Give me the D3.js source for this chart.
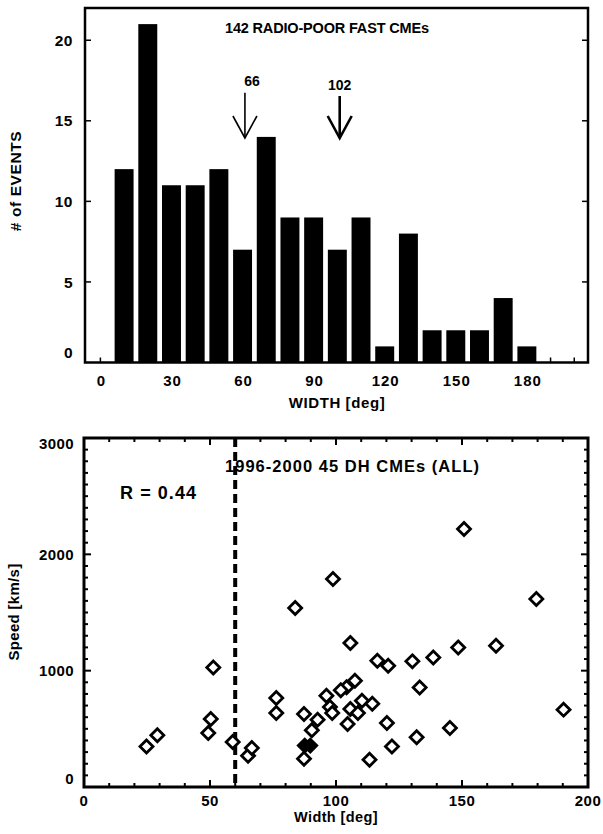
<!DOCTYPE html>
<html>
<head>
<meta charset="utf-8">
<script src="https://cdn.jsdelivr.net/npm/d3@7"></script>
<style>
  html, body { margin: 0; padding: 0; background: #fff; }
  svg { display: block; }
  text { font-family: "Liberation Sans", Arial, Helvetica, sans-serif; font-weight: bold; fill: #000; }
</style>
</head>
<body>
<svg id="chart" width="603" height="834"></svg>
<script>
// ---------- DATA ----------
// Histogram: widths of 142 radio-poor fast CMEs
const binCenters = [10, 20, 30, 40, 50, 60, 70, 80, 90, 100, 110, 120, 130, 140, 150, 160, 170, 180];
const binCounts  = [12, 21, 11, 11, 12, 7, 14, 9, 9, 7, 9, 1, 8, 2, 2, 2, 4, 1];
const histXTicks = [0, 30, 60, 90, 120, 150, 180];
const histYTicks = [0, 5, 10, 15, 20];
const arrowPos    = [61, 101];
const arrowLabels = ["66", "102"];

// Scatter: 45 DH CMEs, width [deg] vs speed [km/s]
const cmeWidth = [150.8, 98.8, 83.8, 179.5, 105.7, 148.5, 163.5, 51.3, 116.4, 120.7,
                  130.3, 138.6, 133.2, 107.5, 104.2, 101.9, 96.2, 76.3, 76.3, 97.6,
                  98.5, 110.3, 114.4, 105.7, 108.7, 104.6, 87.3, 92.7, 90.4, 120.2,
                  145.2, 190.3, 132.0, 122.2, 113.3, 87.3, 65.1, 66.6, 59.0, 50.3,
                  49.3, 29.1, 24.8];
const cmeSpeed = [2218, 1788, 1539, 1616, 1238, 1200, 1215, 1028, 1086, 1043,
                  1080, 1114, 856, 914, 857, 831, 785, 765, 636, 688,
                  636, 742, 716, 671, 636, 542, 628, 579, 487, 550,
                  507, 665, 427, 348, 235, 243, 269, 335, 387, 585,
                  464, 444, 349];
// two overlapping points drawn as filled symbols
const filledWidth = [87.6, 89.8];
const filledSpeed = [356, 356];
const scatXTicks = [0, 50, 100, 150, 200];
const scatYTicks = [0, 1000, 2000, 3000];
const widthCut = 60;

// ---------- DRAW ----------
const svg = d3.select("#chart");

// ===== Histogram =====
const hx = d3.scaleLinear().domain([-6.5, 205.8]).range([85, 588]);
const hy = d3.scaleLinear().domain([0, 22]).range([362.5, 8]);
const H = svg.append("g");

// bottom minor ticks (under bars)
H.selectAll("line.bt").data(d3.range(0, 201, 10)).join("line")
  .attr("x1", d => hx(d)).attr("x2", d => hx(d))
  .attr("y1", hy(0)).attr("y2", hy(0) - 5)
  .attr("stroke", "#000").attr("stroke-width", 1.5);

// bars
const barW = hx(8) - hx(0);
H.selectAll("rect.bar").data(binCenters).join("rect")
  .attr("x", d => hx(d) - barW / 2)
  .attr("width", barW)
  .attr("y", (d, i) => hy(binCounts[i]))
  .attr("height", (d, i) => hy(0) - hy(binCounts[i]))
  .attr("fill", "#000");

// frame
H.append("rect").attr("x", hx.range()[0]).attr("y", hy.range()[1])
  .attr("width", hx.range()[1] - hx.range()[0]).attr("height", hy.range()[0] - hy.range()[1])
  .attr("fill", "none").attr("stroke", "#000").attr("stroke-width", 2.5);

// y ticks left/right
histYTicks.filter(d => d > 0).forEach(d => {
  H.append("line").attr("x1", hx.range()[0]).attr("x2", hx.range()[0] + 6)
    .attr("y1", hy(d)).attr("y2", hy(d)).attr("stroke", "#000").attr("stroke-width", 1.5);
  H.append("line").attr("x1", hx.range()[1]).attr("x2", hx.range()[1] - 6)
    .attr("y1", hy(d)).attr("y2", hy(d)).attr("stroke", "#000").attr("stroke-width", 1.5);
});
// y tick labels
H.selectAll("text.yl").data(histYTicks).join("text")
  .attr("x", 73).attr("y", d => Math.min(hy(d), hy(0) - 10))
  .attr("dy", "0.36em").attr("text-anchor", "end")
  .style("font-size", "15.5px").style("letter-spacing", "0.5px")
  .text(d => d);
// x tick labels
H.selectAll("text.xl").data(histXTicks).join("text")
  .attr("x", d => hx(d) + 1).attr("y", 386)
  .attr("text-anchor", "middle")
  .style("font-size", "15px").style("letter-spacing", "1px")
  .text(d => d);
// axis titles
H.append("text").attr("x", 337).attr("y", 408).attr("text-anchor", "middle")
  .style("font-size", "15px").style("letter-spacing", "0.6px").text("WIDTH [deg]");
H.append("text").attr("transform", "translate(21,181) rotate(-90)").attr("text-anchor", "middle")
  .style("font-size", "15.5px").style("letter-spacing", "0.6px").text("# of EVENTS");
// title
H.append("text").attr("x", 327).attr("y", 33).attr("text-anchor", "middle")
  .attr("textLength", 204).attr("lengthAdjust", "spacing")
  .style("font-size", "14.5px").text("142 RADIO-POOR FAST CMEs");

// arrows
const arrowTop = [92.7, 96];
const arrowW = [1.6, 2.6];
arrowPos.forEach((p, i) => {
  const x = hx(p), tip = 138;
  H.append("line").attr("x1", x).attr("x2", x).attr("y1", arrowTop[i]).attr("y2", tip)
    .attr("stroke", "#000").attr("stroke-width", arrowW[i]);
  H.append("path").attr("d", `M${x - 12},${tip - 22} L${x},${tip} L${x + 12},${tip - 22}`)
    .attr("fill", "none").attr("stroke", "#000").attr("stroke-width", arrowW[i]);
  H.append("text").attr("x", x + (i === 0 ? 7 : 0)).attr("y", i === 0 ? 86 : 90)
    .attr("text-anchor", "middle").style("font-size", "14px").text(arrowLabels[i]);
});

// ===== Scatter =====
const sx = d3.scaleLinear().domain([0, 200]).range([84, 588]);
const sy = d3.scaleLinear().domain([0, 3000]).range([787, 438]);
const S = svg.append("g");

// frame
S.append("rect").attr("x", sx(0)).attr("y", sy(3000))
  .attr("width", sx(200) - sx(0)).attr("height", sy(0) - sy(3000))
  .attr("fill", "none").attr("stroke", "#000").attr("stroke-width", 3);

// x ticks (bottom/top)
d3.range(0, 201, 10).forEach(d => {
  const L = d % 50 === 0 ? 7 : 4;
  S.append("line").attr("x1", sx(d)).attr("x2", sx(d)).attr("y1", sy(0)).attr("y2", sy(0) - L)
    .attr("stroke", "#000").attr("stroke-width", 2);
  S.append("line").attr("x1", sx(d)).attr("x2", sx(d)).attr("y1", sy(3000)).attr("y2", sy(3000) + L)
    .attr("stroke", "#000").attr("stroke-width", 2);
});
// y ticks (left/right)
d3.range(0, 3001, 100).forEach(d => {
  const L = d % 1000 === 0 ? 7 : 4;
  S.append("line").attr("x1", sx(0)).attr("x2", sx(0) + L).attr("y1", sy(d)).attr("y2", sy(d))
    .attr("stroke", "#000").attr("stroke-width", 2);
  S.append("line").attr("x1", sx(200)).attr("x2", sx(200) - L).attr("y1", sy(d)).attr("y2", sy(d))
    .attr("stroke", "#000").attr("stroke-width", 2);
});
// tick labels
S.selectAll("text.syl").data(scatYTicks).join("text")
  .attr("x", 74).attr("y", d => Math.max(sy(3000) + 6, Math.min(sy(d), sy(0) - 8)))
  .attr("dy", "0.36em").attr("text-anchor", "end")
  .style("font-size", "15px").style("letter-spacing", "0.4px").text(d => d);
S.selectAll("text.sxl").data(scatXTicks).join("text")
  .attr("x", d => sx(d)).attr("y", 806).attr("text-anchor", "middle")
  .style("font-size", "15px").style("letter-spacing", "0.5px").text(d => d);
// axis titles
S.append("text").attr("x", 336).attr("y", 822).attr("text-anchor", "middle")
  .style("font-size", "14.5px").style("letter-spacing", "0.4px").text("Width [deg]");
S.append("text").attr("transform", "translate(19,612) rotate(-90)").attr("text-anchor", "middle")
  .style("font-size", "15px").style("letter-spacing", "0.3px").text("Speed [km/s]");

// dashed cut line
S.append("line").attr("x1", sx(widthCut)).attr("x2", sx(widthCut))
  .attr("y1", sy(3000)).attr("y2", sy(0))
  .attr("stroke", "#000").attr("stroke-width", 4).attr("stroke-dasharray", "9,5");

// title & R
S.append("text").attr("x", 352).attr("y", 472).attr("text-anchor", "middle")
  .attr("textLength", 254).attr("lengthAdjust", "spacing")
  .style("font-size", "16.5px").text("1996-2000  45 DH CMEs (ALL)");
S.append("text").attr("x", 120).attr("y", 499)
  .attr("textLength", 76).attr("lengthAdjust", "spacing")
  .style("font-size", "18px").text("R = 0.44");

// diamonds
const diamond = r => `M0,${-r} L${r},0 L0,${r} L${-r},0 Z`;
S.selectAll("path.pt").data(cmeWidth).join("path")
  .attr("d", diamond(6.5))
  .attr("transform", (d, i) => `translate(${sx(d)},${sy(cmeSpeed[i])})`)
  .attr("fill", "#fff").attr("stroke", "#000").attr("stroke-width", 2.8);
S.selectAll("path.fpt").data(filledWidth).join("path")
  .attr("d", diamond(7))
  .attr("transform", (d, i) => `translate(${sx(d)},${sy(filledSpeed[i])})`)
  .attr("fill", "#000").attr("stroke", "#000").attr("stroke-width", 2);
</script>
</body>
</html>
